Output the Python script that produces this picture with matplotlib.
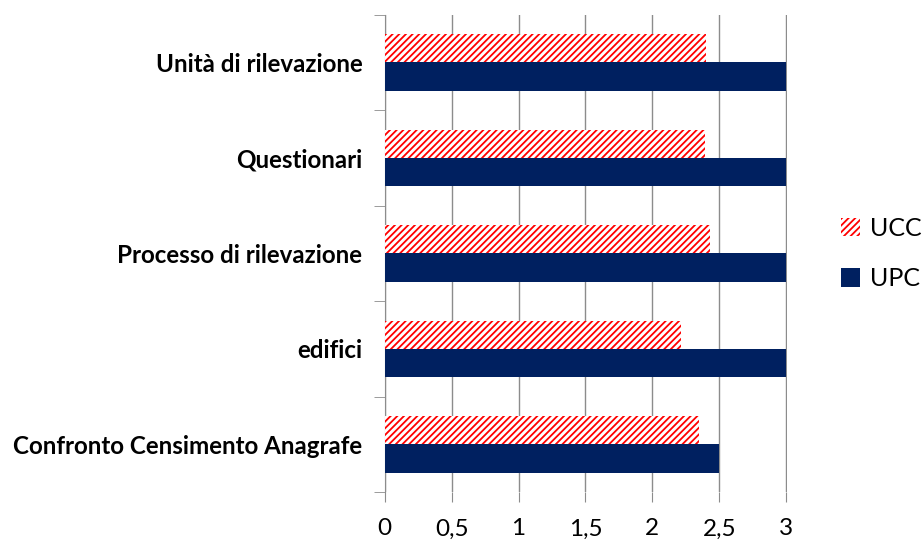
import matplotlib
matplotlib.use('Agg')
import matplotlib.pyplot as plt
import numpy as np

categories = ['Confronto Censimento Anagrafe', 'edifici', 'Processo di rilevazione',
              'Questionari', 'Unità di rilevazione']
ucc = [2.35, 2.21, 2.43, 2.39, 2.40]
upc = [2.5, 3, 3, 3, 3]
xticks = [0, 0.5, 1, 1.5, 2, 2.5, 3]
xticklabels = ['0', '0,5', '1', '1,5', '2', '2,5', '3']

plt.rcParams['font.family'] = ['Lato', 'DejaVu Sans']
plt.rcParams['hatch.linewidth'] = 1.3

fig = plt.figure(figsize=(9.24, 5.45), dpi=100)
ax = fig.add_axes([0.4163, 0.0972, 0.4351, 0.8758])

h = 0.296
y = np.arange(len(categories))
ax.barh(y + h / 2, ucc, height=h, color='white', edgecolor='#ff0000', hatch='/////',
        linewidth=0, label='UCC', zorder=3)
ax.barh(y - h / 2, upc, height=h, color='#002060', linewidth=0, label='UPC', zorder=3)

ax.set_xlim(0, 3.003)
ax.set_ylim(-0.5, 4.5)
ax.set_xticks(xticks)
ax.set_xticklabels(xticklabels, fontsize=17.5)
ax.grid(axis='x', color='#8c8c8c', linewidth=1, zorder=0)
ax.tick_params(axis='x', length=7, color='#8c8c8c', pad=12)

ax.set_yticks(y)
ax.set_yticklabels(categories, fontsize=17.4, fontweight='bold')
ax.set_yticks(np.arange(-0.5, 5, 1), minor=True)
ax.tick_params(axis='y', which='major', length=0, pad=16)
ax.tick_params(axis='y', which='minor', length=8, color='#8c8c8c')

for s in ['top', 'right', 'bottom']:
    ax.spines[s].set_visible(False)
ax.spines['left'].set_color('#8c8c8c')

ax.legend(loc='center left', bbox_to_anchor=(1.08, 0.5), frameon=False,
          fontsize=18, handlelength=0.75, handleheight=0.75, labelspacing=1.1,
          handletextpad=0.4)

fig.savefig('out.png', dpi=100)
